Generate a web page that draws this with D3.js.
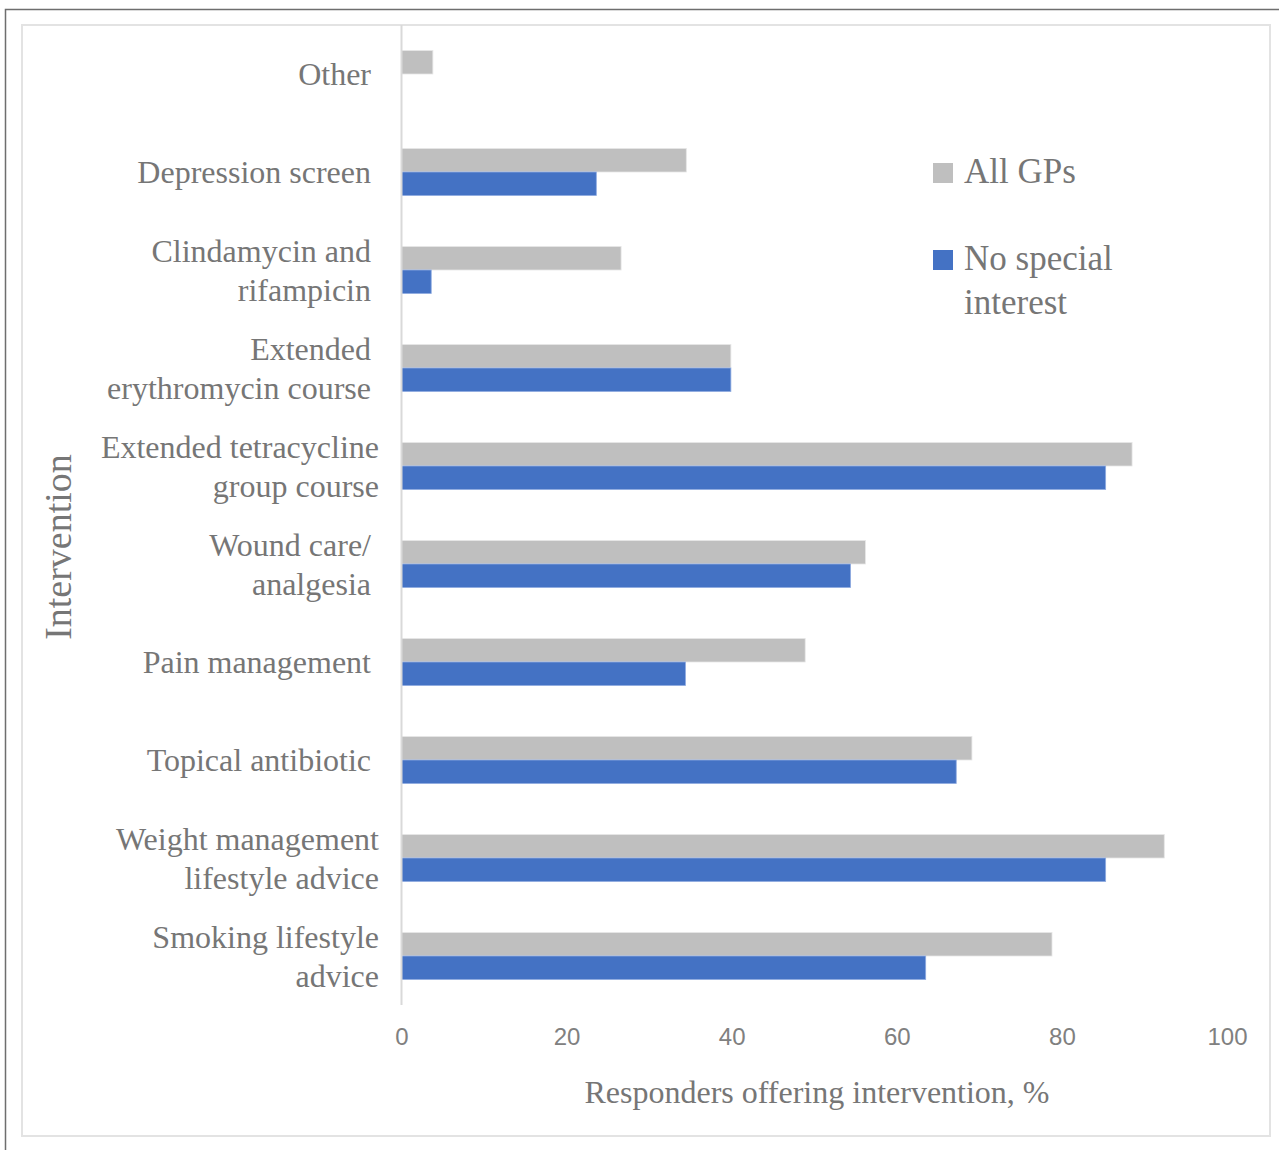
<!DOCTYPE html>
<html>
<head>
<meta charset="utf-8">
<script src="https://cdn.jsdelivr.net/npm/d3@7"></script>
<style>
  html, body { margin: 0; padding: 0; background: #fff; }
  svg { display: block; }
</style>
</head>
<body>
<svg id="chart" width="1279" height="1150"></svg>
<script>
// Interventions offered, top to bottom; each label is split into its display lines
const categories = [
  ["Other"],
  ["Depression screen"],
  ["Clindamycin and", "rifampicin"],
  ["Extended", "erythromycin course"],
  ["Extended tetracycline", "group course"],
  ["Wound care/", "analgesia"],
  ["Pain management"],
  ["Topical antibiotic"],
  ["Weight management", "lifestyle advice"],
  ["Smoking lifestyle", "advice"]
];

// Percentage of responders offering each intervention
const allGPs = [3.8, 34.5, 26.6, 39.9, 88.5, 56.2, 48.9, 69.1, 92.4, 78.8];
const noSpecialInterest = [null, 23.6, 3.6, 39.9, 85.3, 54.4, 34.4, 67.2, 85.3, 63.5];

const seriesNames = ["All GPs", "No special interest"];
const seriesColors = ["#bfbfbf", "#4472c4"];
const xTicks = [0, 20, 40, 60, 80, 100];

const textColor = "#767676";
const serif = "'Liberation Serif', 'DejaVu Serif', serif";
const narrow = "'Liberation Sans Narrow', 'Liberation Sans', sans-serif";

const svg = d3.select("#chart");

// Outer page frame and inner chart border
svg.append("path")
  .attr("d", "M5.5,1150 V9.5 H1279")
  .attr("fill", "none").attr("stroke", "#6e6e6e").attr("stroke-width", 1.5);
svg.append("rect")
  .attr("x", 22).attr("y", 25).attr("width", 1248).attr("height", 1111)
  .attr("fill", "#fff").attr("stroke", "#e3e3e3").attr("stroke-width", 2);

const plot = { left: 401.5, right: 1227, top: 25, bottom: 1005 };

const x = d3.scaleLinear().domain([0, 100]).range([plot.left, plot.right]);
const y = d3.scaleBand()
  .domain(d3.range(categories.length))
  .range([plot.top, plot.bottom])
  .paddingInner(0.52)
  .paddingOuter(0.26);
const ySub = d3.scaleBand().domain([0, 1]).range([0, y.bandwidth()]);

// Bars
const series = [allGPs, noSpecialInterest];
series.forEach((vals, si) => {
  svg.append("g")
    .selectAll("rect")
    .data(vals.map((v, i) => ({ v, i })).filter(d => d.v != null))
    .join("rect")
    .attr("x", x(0))
    .attr("y", d => y(d.i) + ySub(si))
    .attr("width", d => x(d.v) - x(0))
    .attr("height", ySub.bandwidth())
    .attr("fill", seriesColors[si])
    .attr("stroke", si === 0 ? "#e6e6e6" : "#8fabe0")
    .attr("stroke-width", 0.8);
});

// Category axis line
svg.append("line")
  .attr("x1", plot.left).attr("x2", plot.left)
  .attr("y1", plot.top).attr("y2", plot.bottom)
  .attr("stroke", "#d9d9d9").attr("stroke-width", 2);

// Category labels (the widest wrapped labels sit slightly further right)
const wideLabels = new Set([4, 8, 9]);
const lineH = 39;
const catG = svg.append("g")
  .attr("font-family", serif).attr("font-size", 32)
  .attr("fill", textColor).attr("text-anchor", "end");
categories.forEach((lines, i) => {
  const cy = y(i) + y.bandwidth() / 2;
  const ax = wideLabels.has(i) ? 379 : 371;
  const t = catG.append("text")
    .attr("x", ax)
    .attr("y", cy - (lines.length - 1) * lineH / 2)
    .attr("dominant-baseline", "central");
  lines.forEach((ln, k) => {
    t.append("tspan")
      .attr("x", ax)
      .attr("dy", k === 0 ? 0 : lineH)
      .text(ln);
  });
});

// Value axis ticks
const xAxis = d3.axisBottom(x).tickValues(xTicks).tickSize(0).tickPadding(0);
const xg = svg.append("g").attr("transform", `translate(0, 1036)`).call(xAxis);
xg.select(".domain").remove();
xg.selectAll("text")
  .attr("font-family", narrow).attr("font-size", 24)
  .attr("fill", "#808080")
  .attr("dy", null)
  .attr("dominant-baseline", "central");

// Axis titles
svg.append("text")
  .attr("x", 817).attr("y", 1092)
  .attr("text-anchor", "middle").attr("dominant-baseline", "central")
  .attr("font-family", serif).attr("font-size", 31)
  .attr("textLength", 465).attr("lengthAdjust", "spacingAndGlyphs")
  .attr("fill", textColor)
  .text("Responders offering intervention, %");

svg.append("text")
  .attr("transform", "translate(58, 547) rotate(-90)")
  .attr("text-anchor", "middle").attr("dominant-baseline", "central")
  .attr("font-family", serif).attr("font-size", 38)
  .attr("fill", textColor)
  .text("Intervention");

// Legend
const legend = svg.append("g")
  .attr("font-family", serif).attr("font-size", 35).attr("fill", textColor);
const legendItems = [
  { lines: ["All GPs"], y: 163 },
  { lines: ["No special", "interest"], y: 250 }
];
legendItems.forEach((item, i) => {
  legend.append("rect")
    .attr("x", 933).attr("y", item.y)
    .attr("width", 20).attr("height", 20)
    .attr("fill", seriesColors[i]);
  const t = legend.append("text").attr("x", 964).attr("y", item.y + 20);
  item.lines.forEach((ln, k) => {
    t.append("tspan").attr("x", 964).attr("dy", k === 0 ? 0 : 44).text(ln);
  });
});
</script>
</body>
</html>
